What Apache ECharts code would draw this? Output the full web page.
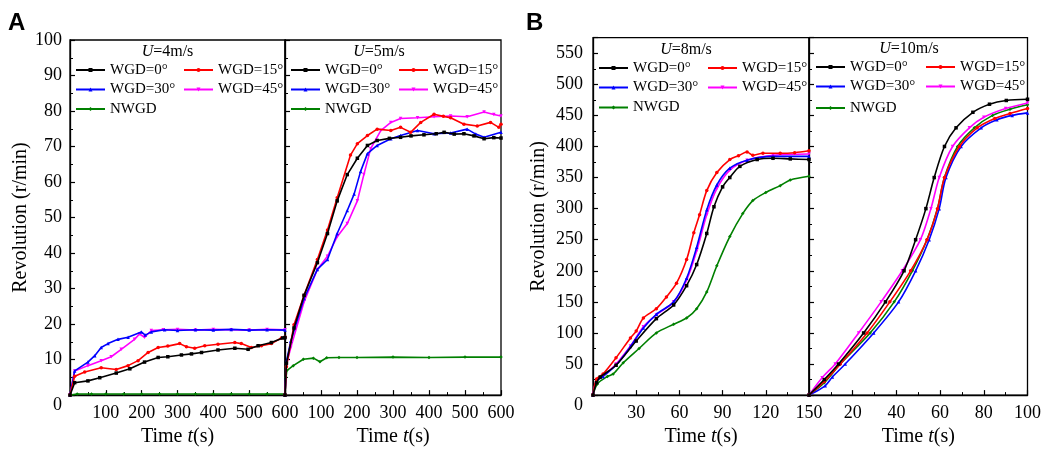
<!DOCTYPE html>
<html>
<head>
<meta charset="utf-8">
<script src="https://cdn.jsdelivr.net/npm/echarts@6/dist/echarts.min.js"></script>
<style>html,body{margin:0;padding:0;background:#fff;}#c{width:1044px;height:452px;}</style>
</head>
<body>
<div id="c"></div>
<script>
// ---------- DATA ([time s, revolution r/min]) ----------
const seriesNames = ['WGD=0°', 'WGD=15°', 'WGD=30°', 'WGD=45°', 'NWGD'];
const panelTitles = ['4', '5', '8', '10']; // U in m/s

// U = 4 m/s
const u4_wgd0 = [[0,0],[13,3.5],[50,4.0],[83,4.9],[129,6.2],[167,7.4],[208,9.3],[246,10.6],[273,10.8],[311,11.3],[339,11.6],[367,12.0],[413,12.7],[460,13.2],[497,12.9],[525,13.9],[562,14.8],[594,16.1],[600,16.2]];
const u4_wgd15 = [[0,0],[13,5.3],[41,6.5],[87,7.7],[129,7.2],[162,8.3],[190,9.7],[218,12.0],[246,13.4],[273,13.8],[306,14.5],[325,13.6],[348,13.2],[376,13.9],[413,14.3],[460,14.8],[478,14.5],[506,13.4],[534,13.9],[562,14.5],[590,16.1],[600,16.3]];
const u4_wgd30 = [[0,0],[13,6.8],[50,9.3],[69,11.1],[87,13.4],[106,14.5],[134,15.7],[162,16.3],[199,17.8],[210,16.9],[227,17.8],[264,18.4],[300,18.2],[350,18.4],[400,18.3],[450,18.5],[500,18.3],[550,18.4],[600,18.3]];
const u4_wgd45 = [[0,0],[13,6.8],[50,8.3],[87,9.7],[115,10.8],[143,12.9],[180,15.7],[194,17.2],[208,16.3],[227,18.2],[260,18.4],[300,18.5],[350,18.3],[400,18.5],[450,18.4],[500,18.3],[550,18.5],[600,18.4]];
const u4_nwgd = [[0,0],[20,0.3],[60,0.3],[100,0.3],[150,0.3],[200,0.3],[250,0.3],[300,0.3],[350,0.3],[400,0.3],[450,0.3],[500,0.3],[550,0.3],[600,0.3]];

// U = 5 m/s
const u5_wgd0 = [[0,0],[4,9],[25,18.9],[53,28.1],[90,37.3],[118,45.5],[145,54.7],[173,62.1],[201,66.7],[229,70.3],[256,71.7],[290,72.3],[321,72.6],[350,73.0],[386,73.3],[420,73.6],[442,74.0],[470,73.5],[497,73.6],[525,73.0],[553,72.2],[580,72.5],[600,72.4]];
const u5_wgd15 = [[0,0],[4,8],[25,19.8],[53,28.1],[90,38.2],[118,46.5],[145,55.6],[182,67.6],[201,70.8],[229,73.1],[256,74.9],[294,74.5],[321,75.4],[349,74.0],[377,76.8],[414,79.1],[440,78.5],[460,78.1],[497,76.3],[534,75.8],[571,76.8],[594,75.4],[600,76.3]];
const u5_wgd30 = [[0,0],[4,9.5],[16,15.2],[53,27.2],[90,35.4],[118,38.2],[145,45.5],[173,52],[192,56.6],[210,63],[229,68],[256,70.3],[294,72.2],[321,73.1],[368,74.5],[414,73.6],[460,73.8],[506,74.9],[530,73.5],[553,72.6],[600,74.0]];
const u5_wgd45 = [[0,0],[4,8.5],[16,13.4],[53,26.3],[90,35.4],[118,39.1],[145,44.6],[173,48.3],[201,54.7],[219,62.1],[238,69.4],[266,74.5],[294,76.8],[321,77.9],[368,78.1],[414,78.4],[460,78.6],[506,78.4],[553,79.7],[580,79.0],[600,78.6]];
const u5_nwgd = [[0,0],[3,5],[5,6.9],[23,8.3],[51,10.1],[79,10.4],[97,9.4],[116,10.5],[150,10.6],[200,10.6],[300,10.7],[400,10.6],[500,10.7],[600,10.7]];

// U = 8 m/s
const u8_wgd0 = [[0,0],[2.5,20],[5,29],[16,48],[30,87],[44,123],[56,145],[65,176],[72,210],[79,260],[84,303],[90,335],[95,350],[102,368],[114,379],[125,381],[137,380],[150,379]];
const u8_wgd15 = [[0,0],[2.5,26],[7,34],[16,60],[26,92],[30,103],[35,124],[44,139],[51,158],[58,180],[65,218],[70,261],[74,290],[79,329],[86,358],[95,379],[101,385],[107,391],[111,386],[118,389],[130,389],[140,390],[150,393]];
const u8_wgd30 = [[0,0],[2.5,22],[7,30],[16,48],[26,78],[35,108],[44,130],[56,150],[65,188],[72,238],[79,298],[86,338],[95,365],[107,378],[125,384],[150,384]];
const u8_wgd45 = [[0,0],[2.5,24],[7,31],[16,50],[26,79],[35,110],[44,129],[56,150],[65,185],[72,232],[79,290],[86,332],[95,362],[107,378],[125,386],[150,388]];
const u8_nwgd = [[0,0],[3,18],[10,30],[14,34],[21,52],[32,75],[44,100],[56,114],[65,124],[72,139],[79,166],[86,208],[95,255],[104,292],[111,313],[120,326],[130,337],[137,346],[150,352]];

// U = 10 m/s
const u10_wgd0 = [[0,0],[7,25],[13.5,50],[25,100],[35,150],[43.5,200],[48.8,250],[53.5,300],[57.3,350],[62,400],[67.3,430],[75,455],[82.6,468],[90.3,474],[100,476]];
const u10_wgd15 = [[0,0],[7,22],[14.3,50],[26.6,100],[37,150],[46.5,200],[54,250],[58.8,300],[62,350],[68.8,400],[77,430],[85,445],[92,453],[100,461]];
const u10_wgd30 = [[0,0],[7.4,15],[10.7,29],[16.6,50],[29.6,100],[41,150],[48.8,200],[55,250],[59.6,300],[62.7,350],[69.6,400],[78.8,430],[86,443],[93,450],[100,454]];
const u10_wgd45 = [[0,0],[6,28],[12,50],[22.7,100],[33,150],[42.7,200],[51,250],[55.8,300],[59.6,350],[65.7,400],[73.4,430],[80,447],[90,461],[100,470]];
const u10_nwgd = [[0,0],[7,20],[14.3,50],[28,100],[39,150],[47.3,200],[54,250],[58.8,300],[62,350],[68,400],[75.7,430],[84,450],[92,460],[100,467]];

// axis ranges / ticks
const xMax = [600, 600, 150, 100];
const xStep = [100, 100, 30, 20];
const yMaxA = 100, yStepA = 10;
const yMaxB = 575, yStepB = 50;

const panelData = [
  [u4_wgd0, u4_wgd15, u4_wgd30, u4_wgd45, u4_nwgd],
  [u5_wgd0, u5_wgd15, u5_wgd30, u5_wgd45, u5_nwgd],
  [u8_wgd0, u8_wgd15, u8_wgd30, u8_wgd45, u8_nwgd],
  [u10_wgd0, u10_wgd15, u10_wgd30, u10_wgd45, u10_nwgd]
];

// ---------- STYLE ----------
const SERIF = 'Liberation Serif';
const colors = ['#000000', '#ff0000', '#0000ff', '#ff00ff', '#008000'];
const symbols = ['rect', 'circle', 'triangle', 'triangle', 'diamond'];
const rotates = [0, 0, 0, 180, 0];
const grids = [
  {left: 70, top: 40, width: 215, height: 362},
  {left: 285, top: 40, width: 216, height: 362},
  {left: 593, top: 37.7, width: 216, height: 364},
  {left: 809, top: 37.7, width: 219, height: 364}
];
const legendPos = [
  {x0: 75, x1: 183, rows: [70, 89.5, 109], tx: 167.5, ty: 52},
  {x0: 290, x1: 398, rows: [70, 89.5, 109], tx: 379, ty: 52},
  {x0: 598, x1: 707, rows: [68, 87.5, 107.5], tx: 686, ty: 50},
  {x0: 815, x1: 925, rows: [67, 86.5, 108], tx: 909, ty: 49}
];

const option = {
  backgroundColor: '#fff',
  animation: false,
  grid: grids.map(g => Object.assign({show: true, borderColor: '#000', borderWidth: 1.3, backgroundColor: 'transparent'}, g)),
  xAxis: [], yAxis: [], series: [], legend: [], graphic: []
};

const timeName = '{n|Time }{i|t}{n|(s)}';
for (let p = 0; p < 4; p++) {
  const isLeft = (p === 0 || p === 2);
  const isA = p < 2;
  option.xAxis.push({
    type: 'value', gridIndex: p, min: 0, max: xMax[p], interval: xStep[p],
    name: timeName, nameLocation: 'middle', nameGap: 27,
    nameTextStyle: {rich: {
      n: {fontFamily: SERIF, fontSize: 20, color: '#000'},
      i: {fontFamily: SERIF, fontSize: 20, color: '#000', fontStyle: 'italic'}
    }},
    axisLine: {show: true, lineStyle: {color: '#000', width: 1.3}},
    axisTick: {show: true, inside: true, length: 5, lineStyle: {color: '#000', width: 1.2}},
    minorTick: {show: true, splitNumber: 2, length: 3, lineStyle: {color: '#000', width: 1}},
    splitLine: {show: false},
    axisLabel: {showMinLabel: false, fontFamily: SERIF, fontSize: 18, color: '#000', margin: 9}
  });
  const yMax = isA ? yMaxA : yMaxB;
  option.yAxis.push({
    type: 'value', gridIndex: p, min: 0, max: yMax, interval: isA ? yStepA : yStepB,
    name: isLeft ? 'Revolution (r/min)' : '', nameLocation: 'middle', nameGap: isA ? 33 : 44,
    nameTextStyle: {fontFamily: SERIF, fontSize: 20, color: '#000'},
    axisLine: {show: true, lineStyle: {color: '#000', width: 1.3}},
    axisTick: {show: true, inside: true, length: 5, lineStyle: {color: '#000', width: 1.2}},
    minorTick: {show: true, splitNumber: 2, length: 3, lineStyle: {color: '#000', width: 1}},
    splitLine: {show: false},
    axisLabel: {
      show: isLeft, showMaxLabel: isA, fontFamily: SERIF, fontSize: 18, color: '#000', margin: isA ? 8 : 10,
      formatter: v => v === 0 ? '{z|0}' : String(v),
      rich: {z: {fontFamily: SERIF, fontSize: 18, color: '#000', padding: [20, 0, 0, 0]}}
    }
  });
  for (let s = 0; s < 5; s++) {
    option.series.push({
      type: 'line', name: seriesNames[s], xAxisIndex: p, yAxisIndex: p,
      data: panelData[p][s],
      smooth: isA ? false : 0.3,
      symbol: symbols[s], symbolRotate: rotates[s], symbolSize: 3.5, showSymbol: true,
      lineStyle: {color: colors[s], width: 1.6},
      itemStyle: {color: colors[s]},
      z: 10 - s
    });
    const lp = legendPos[p];
    const row = Math.floor(s / 2), col = s % 2;
    option.legend.push({
      data: [seriesNames[s]], selectedMode: false, orient: 'horizontal',
      left: col === 0 ? lp.x0 : lp.x1, top: lp.rows[row] - 8,
      padding: 0, itemWidth: 29, itemHeight: 5, itemGap: 0,
      lineStyle: {width: 2},
      textStyle: {fontFamily: SERIF, fontSize: 15, color: '#000', lineHeight: 16}
    });
  }
  const lp = legendPos[p];
  option.graphic.push({
    type: 'text', x: lp.tx, y: lp.ty,
    style: {
      text: '{i|U}{n|=' + panelTitles[p] + 'm/s}', align: 'center', verticalAlign: 'middle',
      rich: {
        i: {fontFamily: SERIF, fontSize: 16, fontStyle: 'italic', fill: '#000'},
        n: {fontFamily: SERIF, fontSize: 16, fill: '#000'}
      }
    }
  });
}
option.graphic.push({type: 'text', x: 8, y: 11, style: {text: 'A', font: 'bold 24px "Liberation Sans"', fill: '#000', verticalAlign: 'top'}});
option.graphic.push({type: 'text', x: 526, y: 11, style: {text: 'B', font: 'bold 24px "Liberation Sans"', fill: '#000', verticalAlign: 'top'}});

const chart = echarts.init(document.getElementById('c'), null, {renderer: 'canvas'});
chart.setOption(option);
</script>
</body>
</html>
